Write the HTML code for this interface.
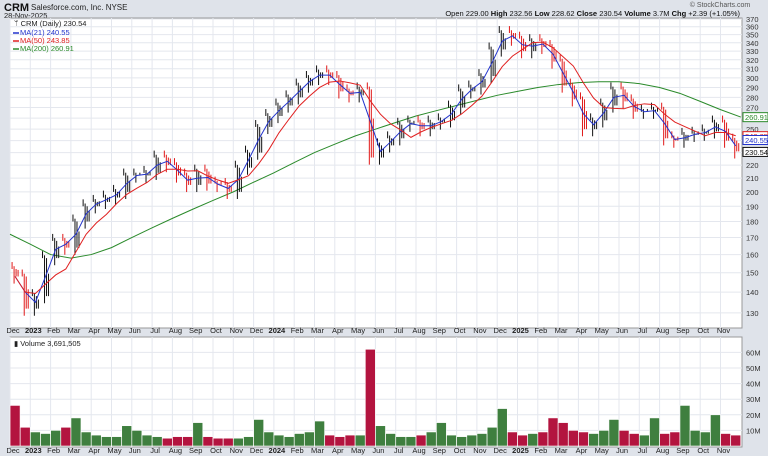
<!DOCTYPE html>
<html><head><meta charset="utf-8"><style>
body{margin:0;background:#dfe3ea;font-family:"Liberation Sans",sans-serif;}
svg{display:block}
</style></head><body>
<svg id="c" width="768" height="456" xmlns="http://www.w3.org/2000/svg">
<rect x="0" y="0" width="768" height="456" fill="#dfe3ea"/>
<text x="4" y="11" font-size="11" font-weight="bold" fill="#111">CRM</text>
<text x="31" y="10" font-size="8" fill="#222">Salesforce.com, Inc.  NYSE</text>
<text x="4" y="18" font-size="7.5" fill="#222">28-Nov-2025</text>
<text x="720" y="7" font-size="7" fill="#555" text-anchor="middle">© StockCharts.com</text>
<text x="740" y="16" font-size="7.5" fill="#111" text-anchor="end">Open 229.00  <tspan font-weight="bold">High</tspan> 232.56  <tspan font-weight="bold">Low</tspan> 228.62  <tspan font-weight="bold">Close</tspan> 230.54  <tspan font-weight="bold">Volume</tspan> 3.7M  <tspan font-weight="bold">Chg</tspan> +2.39 (+1.05%)</text>
<rect x="10" y="18" width="732" height="310" fill="#fff" stroke="#999"/>
<rect x="10" y="337" width="732" height="110" fill="#fff" stroke="#999"/>
<g id="grid"></g><g id="vol"></g><g id="ma200l"></g><g id="bars"></g><g id="mas"></g><g id="axes"></g>
<g font-size="7.5">
<text x="14" y="26" fill="#222">ᛘ CRM (Daily) 230.54</text>
<line x1="13" y1="33" x2="19" y2="33" stroke="#2233cc" stroke-width="1.5"/><text x="20" y="35" fill="#2233cc">MA(21) 240.55</text>
<line x1="13" y1="41" x2="19" y2="41" stroke="#e02020" stroke-width="1.5"/><text x="20" y="43" fill="#e02020">MA(50) 243.85</text>
<line x1="13" y1="49" x2="19" y2="49" stroke="#2a8a2a" stroke-width="1.5"/><text x="20" y="51" fill="#2a8a2a">MA(200) 260.91</text>
<text x="14" y="346" fill="#222">▮ Volume 3,691,505</text>
</g>
</svg>
<script>
const closes=[148,132,138,158,168,164,180,190,193,196,200,212,212,214,226,220,212,205,215,206,205,200,218,230,252,262,272,280,292,300,306,300,286,282,288,226,236,242,254,256,250,256,258,270,286,290,302,332,352,345,330,342,335,318,292,278,250,258,272,288,276,266,266,268,242,240,245,246,248,256,240,231];
const volumes=[26,12,9,8,10,12,18,9,7,6,6,13,10,7,6,5,6,6,15,6,5,5,5,6,17,9,7,6,8,9,16,7,6,7,7,62,13,8,6,6,7,9,15,7,6,7,8,12,24,9,7,8,9,18,15,10,9,8,10,17,10,8,7,18,8,9,26,10,9,20,8,7];
const ma200=[172,166,160,158,160,164,170,176,182,188,194,200,207,214,222,230,237,244,250,256,262,267,272,277,282,286,290,293,295,296,296,294,290,284,276,268,261];
const priceTicks=[130,140,150,160,170,180,190,200,210,220,230,240,250,260,270,280,290,300,310,320,330,340,350,360,370];
const volTicks=[10,20,30,40,50,60];
const months=["Dec","2023","Feb","Mar","Apr","May","Jun","Jul","Aug","Sep","Oct","Nov","Dec","2024","Feb","Mar","Apr","May","Jun","Jul","Aug","Sep","Oct","Nov","Dec","2025","Feb","Mar","Apr","May","Jun","Jul","Aug","Sep","Oct","Nov"];
const NS="http://www.w3.org/2000/svg";
function el(t,a,p){const e=document.createElementNS(NS,t);for(const k in a)e.setAttribute(k,a[k]);document.getElementById(p).appendChild(e);return e;}
const xm=m=>10+m*20.3;
const xi=i=>xm(i*0.5+0.25);
const yp=p=>19+Math.log(370/p)*281;
const yv=v=>446-v*1.56;
months.forEach((mn,m)=>{const x=xm(m);
 let g=el('line',{x1:x,y1:18,x2:x,y2:328,stroke:'#e4e7ee'},'grid');
 
 el('line',{x1:x,y1:337,x2:x,y2:447,stroke:'#e4e7ee'},'grid');
 const bold=/^20/.test(mn);
 [333,453].forEach(y=>{const t=el('text',{x:x+3,y:y,'font-size':'7.5','text-anchor':'middle',fill:'#222','font-weight':bold?'bold':'normal'},'axes');t.textContent=mn;
 });
});
priceTicks.forEach(p=>{const y=yp(p);
 el('line',{x1:10,y1:y,x2:742,y2:y,stroke:'#e4e7ee'},'grid');
 const t=el('text',{x:746,y:y+3,'font-size':'7.5',fill:'#333'},'axes');t.textContent=p;
 });
volTicks.forEach(v=>{const y=yv(v);
 el('line',{x1:10,y1:y,x2:742,y2:y,stroke:'#e4e7ee'},'grid');
 const t=el('text',{x:746,y:y+3,'font-size':'7.5',fill:'#333'},'axes');t.textContent=v+'M';
 });
volumes.forEach((v,i)=>{const up=closes[i]>=(i?closes[i-1]:152);
 const r=el('rect',{x:xi(i)-5,y:yv(v),width:10,height:446-yv(v),fill:up?'#3f7f3f':'#b3143f',stroke:'#fff','stroke-width':'0.6'},'vol');
 });
let d='';ma200.forEach((v,m)=>{d+=(m?'L':'M')+xm(m)+','+yp(v);});
const g2=el('path',{d:d,fill:'none',stroke:'#2a8a2a','stroke-width':1},'ma200l');

closes.forEach((c,i)=>{const o=i?closes[i-1]:152;const up=c>=o;const col=up?'#111':'#e01818';
 const hi=Math.max(o,c)*1.025,lo=Math.min(o,c)*0.975;const x=xi(i);
 const g=el('g',{stroke:col,'stroke-width':1},'bars');
 
 const segs=[[x-3,yp(hi),yp(Math.max(o,c))],[x-1,yp(Math.max(o,c)*1.01),yp(lo)],[x+1,yp(o),yp(c)],[x+3,yp((o+c)/2*1.01),yp(Math.min(o,c))]];
 segs.forEach(([sx,a,b])=>{const l=document.createElementNS(NS,'line');l.setAttribute('x1',sx);l.setAttribute('x2',sx);l.setAttribute('y1',a);l.setAttribute('y2',b);g.appendChild(l);});
});
function ma(n){return closes.map((c,i)=>{let s=0,k=0;for(let j=Math.max(0,i-n+1);j<=i;j++){s+=closes[j];k++;}return s/k;});}
[[ma(2),'#2233cc','ma21-line'],[ma(5),'#e02020','ma50-line']].forEach(([a,col,nm])=>{
 let dd='';a.forEach((v,i)=>{dd+=(i?'L':'M')+xi(i)+','+yp(v);});
 const p=el('path',{d:dd,fill:'none',stroke:col,'stroke-width':1},'mas');
 });
[[260.91,'#2a8a2a'],[243.85,'#e02020'],[240.55,'#2233cc'],[230.54,'#111']].forEach(([v,col])=>{const y=yp(v);
 const r=el('rect',{x:743,y:y-4.5,width:25,height:9,fill:'#fff',stroke:col},'axes');
 
 const t=el('text',{x:745,y:y+3,'font-size':'7.5',fill:col},'axes');t.textContent=v.toFixed(2);
 });
</script>
</body></html>
